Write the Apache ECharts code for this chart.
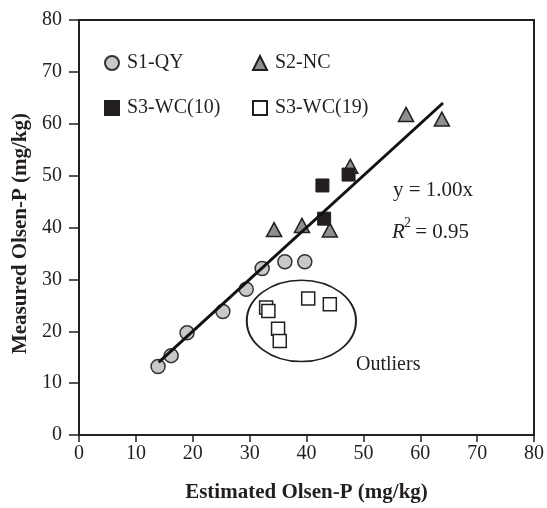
<!DOCTYPE html>
<html><head><meta charset="utf-8">
<script src="https://cdn.jsdelivr.net/npm/echarts@6/dist/echarts.min.js"></script>
<style>html,body{margin:0;padding:0;background:#fff}#c{width:547px;height:508px}</style>
</head><body><div id="c"></div>
<script>
// ---- data ----
const seriesNames = ['S1-QY', 'S2-NC', 'S3-WC(10)', 'S3-WC(19)'];
const s1qy = [[13.9,13.2],[16.2,15.3],[19.0,19.7],[25.3,23.8],[29.4,28.1],[32.2,32.1],[36.2,33.4],[39.7,33.4]];
const s2nc = [[57.5,61.8],[63.8,60.9],[47.7,51.8],[34.3,39.6],[39.2,40.4],[44.1,39.5]];
const s3wc10 = [[42.8,48.1],[47.4,50.2],[43.1,41.7]];
const s3wc19 = [[32.9,24.6],[33.3,23.9],[40.3,26.3],[44.1,25.2],[35.0,20.5],[35.3,18.1]];
const fitLine = [[14,14],[64,64]];
const xRange = [0, 80, 10];
const yRange = [0, 80, 10];
const outlierCenter = [39.1, 22.0];
const outlierRadii = [9.6, 7.85];

const FONT = 'Liberation Serif';
const INK = '#231f20';
const chart = echarts.init(document.getElementById('c'));

const legendBase = {
  itemWidth: 14, itemHeight: 14, padding: 0,
  textStyle: {fontFamily: FONT, fontSize: 20, color: INK, padding: [0,0,0,3]},
  selectedMode: false
};

chart.setOption({
  animation: false,
  backgroundColor: '#fff',
  grid: {left: 79, right: 11, top: 20, bottom: 67, show: true, borderColor: INK, borderWidth: 2},
  xAxis: {
    type: 'value', min: xRange[0], max: xRange[1], interval: xRange[2],
    axisLine: {show: true, lineStyle: {color: INK, width: 2}},
    axisTick: {show: true, inside: false, length: 7, lineStyle: {color: INK, width: 1.5}},
    axisLabel: {color: INK, fontFamily: FONT, fontSize: 20, margin: 9},
    splitLine: {show: false},
    name: 'Estimated Olsen-P (mg/kg)', nameLocation: 'middle', nameGap: 47,
    nameTextStyle: {fontFamily: FONT, fontWeight: 'bold', fontSize: 21, color: INK}
  },
  yAxis: {
    type: 'value', min: yRange[0], max: yRange[1], interval: yRange[2],
    axisLine: {show: true, lineStyle: {color: INK, width: 2}},
    axisTick: {show: true, inside: false, length: 10, lineStyle: {color: INK, width: 1.5}},
    axisLabel: {color: INK, fontFamily: FONT, fontSize: 20, margin: 17},
    splitLine: {show: false},
    name: 'Measured Olsen-P (mg/kg)', nameLocation: 'middle', nameGap: 48,
    nameTextStyle: {fontFamily: FONT, fontWeight: 'bold', fontSize: 21, color: INK, padding: [0, 12, 0, 0]}
  },
  legend: [
    Object.assign({data: [seriesNames[0]], left: 104, top: 53}, legendBase),
    Object.assign({data: [seriesNames[1]], left: 252, top: 53}, legendBase),
    Object.assign({data: [seriesNames[2]], left: 104, top: 98}, legendBase),
    Object.assign({data: [seriesNames[3]], left: 252, top: 98}, legendBase)
  ],
  series: [
    {name: seriesNames[0], type: 'scatter', data: s1qy, symbol: 'circle', symbolSize: 14, z: 2,
     itemStyle: {color: '#c8c8c8', borderColor: '#333', borderWidth: 1.5, opacity: 1}},
    {name: seriesNames[1], type: 'scatter', data: s2nc, symbol: 'triangle', symbolSize: [15, 14], z: 2,
     itemStyle: {color: '#8f8f8f', borderColor: INK, borderWidth: 1.5, opacity: 1}},
    {name: seriesNames[2], type: 'scatter', data: s3wc10, symbol: 'rect', symbolSize: 13, z: 3,
     itemStyle: {color: INK, borderColor: INK, borderWidth: 1, opacity: 1}},
    {name: seriesNames[3], type: 'scatter', data: s3wc19, symbol: 'rect', symbolSize: 13, z: 3,
     itemStyle: {color: '#fff', borderColor: INK, borderWidth: 1.5, opacity: 1}},
    {name: 'fit', type: 'line', data: fitLine, symbol: 'none', z: 4,
     lineStyle: {color: '#111', width: 3}}
  ]
});

const c = chart.convertToPixel({gridIndex: 0}, outlierCenter);
const e = chart.convertToPixel({gridIndex: 0}, [outlierCenter[0] + outlierRadii[0], outlierCenter[1] + outlierRadii[1]]);
const rx = Math.abs(e[0] - c[0]), ry = Math.abs(c[1] - e[1]);
const txt = (t, x, y, extra) => ({type: 'text', x: x, y: y, style: Object.assign({text: t, fontFamily: FONT, fontSize: 21, fill: INK, textVerticalAlign: 'middle', verticalAlign: 'middle'}, extra || {})});
chart.setOption({
  graphic: [
    {type: 'circle', x: c[0], y: c[1], scaleX: rx / ry, scaleY: 1, shape: {cx: 0, cy: 0, r: ry},
     style: {fill: 'none', stroke: INK, lineWidth: 1.5, strokeNoScale: true}},
    txt('Outliers', 356, 365, {fontSize: 20}),
    txt('y = 1.00x', 393, 190),
    txt('R', 392, 232, {fontStyle: 'italic'}),
    txt('2', 404, 223, {fontSize: 14}),
    txt(' = 0.95', 410, 232)
  ]
});
</script></body></html>
